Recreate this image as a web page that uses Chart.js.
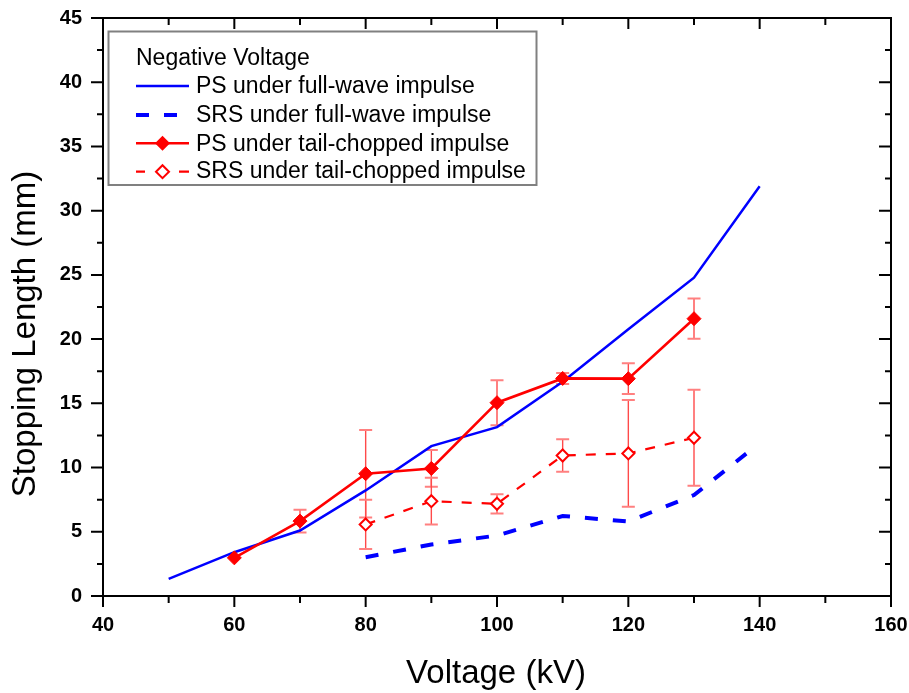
<!DOCTYPE html>
<html>
<head>
<meta charset="utf-8">
<script src="https://cdn.jsdelivr.net/npm/chart.js@4/dist/chart.umd.min.js"></script>
<style>
  html, body { margin: 0; padding: 0; background: #ffffff; }
  #wrap { width: 909px; height: 693px; }
</style>
</head>
<body>
<div id="wrap"><canvas id="c" width="909" height="693"></canvas></div>
<script>
// Stopping length vs. applied voltage (negative polarity)
const voltageFull = [50, 60, 70, 80, 90, 100, 110, 120, 130, 140];
const psFull = [1.34, 3.41, 5.1, 8.22, 11.67, 13.15, 16.68, 20.76, 24.78, 31.9];

const voltageFullSrs = [80, 90, 100, 110, 120, 130, 138.5];
const srsFull = [3.02, 4.01, 4.71, 6.23, 5.8, 7.86, 11.3];

const voltageChopped = [60, 70, 80, 90, 100, 110, 120, 130];
const psChopped = [2.97, 5.83, 9.52, 9.93, 15.05, 16.94, 16.92, 21.59];
const psChoppedErr = [0, 0.88, 3.4, 1.43, 1.75, 0.43, 1.2, 1.57];

const voltageChoppedSrs = [80, 90, 100, 110, 120, 130];
const srsChopped = [5.57, 7.38, 7.18, 10.94, 11.1, 12.32];
const srsChoppedErr = [1.92, 1.82, 0.75, 1.26, 4.15, 3.74];

const xTicks = [40, 60, 80, 100, 120, 140, 160];
const yTicks = [0, 5, 10, 15, 20, 25, 30, 35, 40, 45];

const legendTitle = 'Negative Voltage';
const seriesNames = [
  'PS under full-wave impulse',
  'SRS under full-wave impulse',
  'PS under tail-chopped impulse',
  'SRS under tail-chopped impulse'
];
const xTitle = 'Voltage (kV)';
const yTitle = 'Stopping Length (mm)';

const FONT = '"Liberation Sans", Arial, Helvetica, sans-serif';
const BLUE = '#0000ff';
const RED = '#ff0000';

function pts(xs, ys) { return xs.map((x, i) => ({ x: x, y: ys[i] })); }

// error bars for the tail-chopped series, drawn beneath the markers
const errorBars = {
  id: 'errorBars',
  beforeDatasetsDraw(chart) {
    const { ctx, scales: { x, y } } = chart;
    const sets = [
      [voltageChopped, psChopped, psChoppedErr],
      [voltageChoppedSrs, srsChopped, srsChoppedErr]
    ];
    ctx.save();
    sets.forEach(([xs, ys, es]) => {
      xs.forEach((v, i) => {
        if (!es[i]) return;
        const px = x.getPixelForValue(v);
        const top = y.getPixelForValue(ys[i] + es[i]);
        const bot = y.getPixelForValue(ys[i] - es[i]);
        ctx.strokeStyle = '#ff4a4a';
        ctx.lineWidth = 1.4;
        ctx.beginPath();
        ctx.moveTo(px, top); ctx.lineTo(px, bot);
        ctx.stroke();
        ctx.strokeStyle = '#ff8080';
        ctx.lineWidth = 2;
        ctx.beginPath();
        ctx.moveTo(px - 6.5, top); ctx.lineTo(px + 6.5, top);
        ctx.moveTo(px - 6.5, bot); ctx.lineTo(px + 6.5, bot);
        ctx.stroke();
      });
    });
    ctx.restore();
  }
};

// frame, major/minor tick marks, axis titles and the legend box
const frameAndLegend = {
  id: 'frameAndLegend',
  afterDraw(chart) {
    const { ctx, chartArea: a, scales: { x, y } } = chart;
    ctx.save();
    ctx.strokeStyle = '#000';
    ctx.lineWidth = 2;
    ctx.strokeRect(a.left, a.top, a.right - a.left, a.bottom - a.top);

    ctx.beginPath();
    const xMinor = [], yMinor = [];
    for (let i = 0; i < xTicks.length - 1; i++) xMinor.push((xTicks[i] + xTicks[i + 1]) / 2);
    for (let i = 0; i < yTicks.length - 1; i++) yMinor.push((yTicks[i] + yTicks[i + 1]) / 2);
    xTicks.forEach(v => {
      const p = x.getPixelForValue(v);
      ctx.moveTo(p, a.bottom); ctx.lineTo(p, a.bottom + 11);
      ctx.moveTo(p, a.top); ctx.lineTo(p, a.top + 11);
    });
    xMinor.forEach(v => {
      const p = x.getPixelForValue(v);
      ctx.moveTo(p, a.bottom); ctx.lineTo(p, a.bottom + 7);
      ctx.moveTo(p, a.top); ctx.lineTo(p, a.top + 7);
    });
    yTicks.forEach(v => {
      const p = y.getPixelForValue(v);
      ctx.moveTo(a.left, p); ctx.lineTo(a.left - 12, p);
      ctx.moveTo(a.right, p); ctx.lineTo(a.right - 12, p);
    });
    yMinor.forEach(v => {
      const p = y.getPixelForValue(v);
      ctx.moveTo(a.left, p); ctx.lineTo(a.left - 6, p);
      ctx.moveTo(a.right, p); ctx.lineTo(a.right - 6, p);
    });
    ctx.stroke();

    // axis titles
    ctx.fillStyle = '#000';
    ctx.font = '33px ' + FONT;
    ctx.textAlign = 'center';
    ctx.textBaseline = 'alphabetic';
    ctx.fillText(xTitle, 496, 683);
    ctx.save();
    ctx.translate(35, 334);
    ctx.rotate(-Math.PI / 2);
    ctx.fillText(yTitle, 0, 0);
    ctx.restore();

    // legend
    const lx = 108.5, ly = 31.5, lw = 428, lh = 153.5;
    ctx.fillStyle = '#fff';
    ctx.fillRect(lx, ly, lw, lh);
    ctx.strokeStyle = '#808080';
    ctx.lineWidth = 2;
    ctx.strokeRect(lx, ly, lw, lh);

    ctx.fillStyle = '#000';
    ctx.font = '23px ' + FONT;
    ctx.textAlign = 'left';
    ctx.fillText(legendTitle, 136, 65);
    const baselines = [93.3, 121.7, 150.5, 178.3];
    const sampleY = [86, 115, 143.3, 171.7];
    seriesNames.forEach((t, i) => ctx.fillText(t, 196, baselines[i]));

    const x0 = 136, x1 = 189, xm = 162.5;
    // PS full-wave
    ctx.strokeStyle = BLUE; ctx.lineWidth = 2.5; ctx.setLineDash([]);
    ctx.beginPath(); ctx.moveTo(x0, sampleY[0]); ctx.lineTo(x1, sampleY[0]); ctx.stroke();
    // SRS full-wave
    ctx.lineWidth = 4; ctx.setLineDash([13, 15]);
    ctx.beginPath(); ctx.moveTo(x0, sampleY[1]); ctx.lineTo(x1, sampleY[1]); ctx.stroke();
    // PS tail-chopped
    ctx.setLineDash([]);
    ctx.strokeStyle = RED; ctx.fillStyle = RED; ctx.lineWidth = 2.5;
    ctx.beginPath(); ctx.moveTo(x0, sampleY[2]); ctx.lineTo(x1, sampleY[2]); ctx.stroke();
    ctx.beginPath();
    ctx.moveTo(xm - 7.5, sampleY[2]); ctx.lineTo(xm, sampleY[2] - 7.5);
    ctx.lineTo(xm + 7.5, sampleY[2]); ctx.lineTo(xm, sampleY[2] + 7.5); ctx.closePath();
    ctx.fill();
    // SRS tail-chopped
    ctx.lineWidth = 2.2;
    ctx.beginPath();
    ctx.moveTo(x0, sampleY[3]); ctx.lineTo(x0 + 9, sampleY[3]);
    ctx.moveTo(x1 - 10, sampleY[3]); ctx.lineTo(x1, sampleY[3]);
    ctx.stroke();
    ctx.fillStyle = '#fff'; ctx.lineWidth = 2;
    ctx.beginPath();
    ctx.moveTo(xm - 6.5, sampleY[3]); ctx.lineTo(xm, sampleY[3] - 6.5);
    ctx.lineTo(xm + 6.5, sampleY[3]); ctx.lineTo(xm, sampleY[3] + 6.5); ctx.closePath();
    ctx.fill(); ctx.stroke();
    ctx.restore();
  }
};

Chart.defaults.font.family = FONT;

new Chart(document.getElementById('c'), {
  type: 'line',
  data: {
    datasets: [
      {
        label: seriesNames[2],
        data: pts(voltageChopped, psChopped),
        borderColor: RED, backgroundColor: RED, borderWidth: 2.6,
        pointStyle: 'rectRot', pointRadius: 7, pointBorderWidth: 1,
        pointBackgroundColor: RED, pointBorderColor: RED,
        order: 0
      },
      {
        label: seriesNames[3],
        data: pts(voltageChoppedSrs, srsChopped),
        borderColor: RED, borderWidth: 2.2, borderDash: [10, 10],
        pointStyle: 'rectRot', pointRadius: 6, pointBorderWidth: 2,
        pointBackgroundColor: '#ffffff', pointBorderColor: RED,
        order: 1
      },
      {
        label: seriesNames[0],
        data: pts(voltageFull, psFull),
        borderColor: BLUE, borderWidth: 2.5, pointRadius: 0,
        order: 2
      },
      {
        label: seriesNames[1],
        data: pts(voltageFullSrs, srsFull),
        borderColor: BLUE, borderWidth: 4, borderDash: [13, 15], pointRadius: 0,
        order: 3
      }
    ]
  },
  options: {
    responsive: false,
    animation: false,
    devicePixelRatio: 1,
    layout: { padding: { top: 18, right: 18, left: 0, bottom: 0 } },
    plugins: { legend: { display: false }, tooltip: { enabled: false } },
    elements: { line: { tension: 0 } },
    scales: {
      x: {
        type: 'linear', min: 40, max: 160,
        afterFit: s => { s.height = 97; s.paddingLeft = 0; s.paddingRight = 0; },
        afterBuildTicks: s => { s.ticks = xTicks.map(v => ({ value: v })); },
        grid: { display: false, drawTicks: false },
        border: { display: false },
        ticks: { color: '#000', font: { size: 20, weight: 'bold' }, padding: 17, maxRotation: 0 }
      },
      y: {
        type: 'linear', min: 0, max: 45,
        afterFit: s => { s.width = 103; s.paddingTop = 0; s.paddingBottom = 0; },
        afterBuildTicks: s => { s.ticks = yTicks.map(v => ({ value: v })); },
        grid: { display: false, drawTicks: false },
        border: { display: false },
        ticks: { color: '#000', font: { size: 20, weight: 'bold' }, padding: 21 }
      }
    }
  },
  plugins: [errorBars, frameAndLegend]
});
</script>
</body>
</html>
